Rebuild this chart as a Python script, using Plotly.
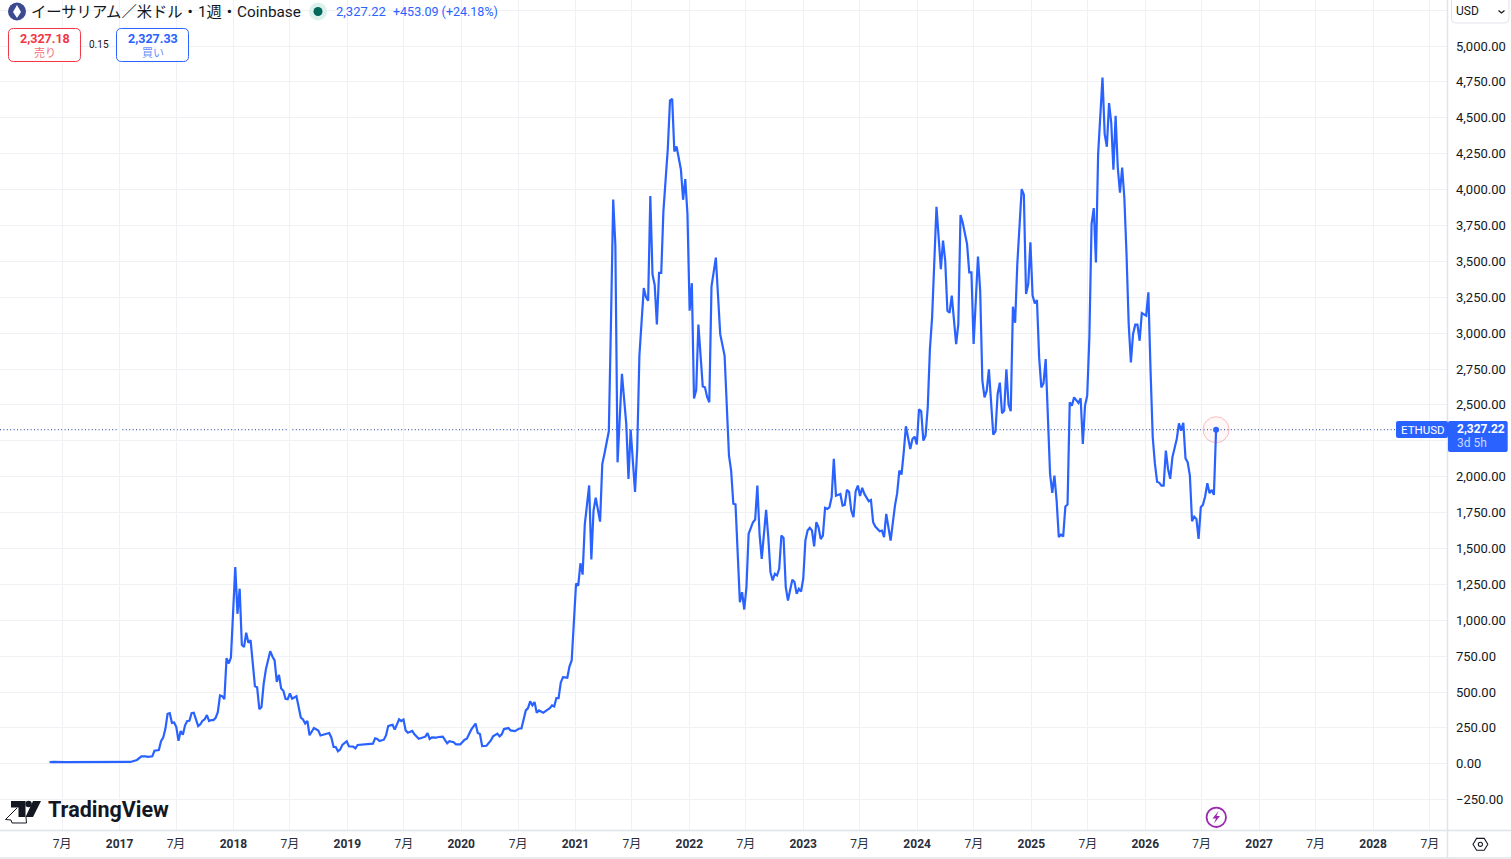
import pandas as pd
import plotly.graph_objects as go

# ---- series: week number since the first bar, close in USD ----
weeks_a = [0,2,7,16,23,29,37,40,42,44,45,47,48,50,51,52,53,54,55,56,57,58,59,60,61,62,63,64,65,66,68,69,70,71,72,73,74,75,76,77,78,79,80,81,82,83,84,85,86,87,88,89,90,91,92,94,95,96,97,98,99,101,102,103,104,105,106,107,108,109,110,111,113,115,116,117,118,119,121,123,124]
close_a = [12,14,12,13,12,10,13,27,52,52,48,52,91,96,157,182,244,348,353,285,288,256,160,228,203,268,298,300,353,356,263,275,300,310,340,298,305,305,320,360,476,471,450,736,699,740,1115,1370,1045,1220,829,813,913,843,862,540,533,380,396,558,658,784,748,720,570,620,525,509,453,450,490,453,471,322,309,281,299,199,250,232,197]
weeks_b = [126,128,129,130,131,132,133,134,136,137,139,140,141,144,145,148,149,150,151,153,154,155,156,157,158,160,161,162,163,164,166,167,169,172,173,174,175,177,178,180,182,183,185,186,188,190,191,193,195,196,197,198,200,202,203,205,206,207,208,210,211,213,215,216,218,219,220,221,222,223,224,226,228,229,230,231,232,233,234,235,237,238,239]
close_b = [208,215,182,117,117,87,99,131,157,122,120,108,131,134,138,140,177,173,159,168,198,263,268,272,238,310,298,308,233,217,229,205,175,189,214,173,184,182,187,189,143,157,150,136,136,168,175,238,280,215,208,124,126,163,191,210,191,205,242,249,233,228,246,246,372,388,435,407,430,356,372,356,377,388,407,400,458,458,565,604,600,679,720]
weeks_c = [241,242,243,244,245,247,248,249,250,252,253,254,256,257,258,259,260,262,264,265,266,268,269,270,272,273,274,275,276,277,278,279,280,281,283,284,285,286,287,289,290,291,292,293,294,295,296,297,299,300,301,302,303,305,306,307,309,310,311,312,313,314]
close_c = [1255,1241,1397,1318,1668,1939,1423,1764,1853,1687,2088,2160,2316,3084,3931,3612,2100,2717,2364,1985,2328,1894,2196,2844,3314,3252,3226,3955,3408,3336,3060,3420,3420,3852,4284,4620,4632,4265,4301,4140,3929,4073,3828,3156,3348,2544,2604,3060,2628,2623,2556,2518,3324,3526,3204,2993,2844,2460,2148,2040,1812,1807]
weeks_d = [315,316,317,318,319,320,322,323,324,325,326,328,329,330,331,332,333,334,335,336,337,338,340,341,342,343,344,345,346,347,348,349,350,351,352,353,354,355,356,357,358,359,360,362,363,364,365,366,367,368,369,370,371,372,373,375,376,377,378,380,381,382,383,384,385,387,388,389,390]
close_d = [1416,1126,1196,1075,1231,1602,1683,1702,1938,1602,1428,1769,1579,1335,1277,1324,1312,1358,1590,1574,1231,1138,1282,1266,1184,1219,1200,1289,1556,1625,1644,1625,1514,1683,1648,1565,1590,1783,1776,1787,1857,2124,1867,1879,1799,1804,1908,1894,1764,1718,1899,1938,1866,1922,1880,1829,1838,1683,1653,1620,1625,1579,1741,1660,1555,1799,1885,2043,2015]
weeks_e = [391,392,394,395,396,397,398,399,400,401,402,403,404,405,406,407,408,409,410,411,412,413,414,415,416,417,418,420,421,422,423,424,425,426,427,428,429,430,431,432,433,434,435,436,437,438,439,440,441,442,443,445,446,447,448,449,450,451,452,453,454,455,456,457,458,459,460,461,462,463,464,465,466,467]
close_e = [2170,2351,2193,2263,2279,2224,2470,2456,2251,2286,2483,2889,3110,3446,3880,3666,3446,3644,3504,3156,3142,3261,3086,2924,3063,3822,3771,3620,3423,3423,2924,3272,3534,3296,2669,2553,2599,2748,2553,2293,2316,2576,2655,2442,2460,2748,2502,2456,3184,3072,3481,4003,3964,3272,3342,3632,3261,3207,3230,2831,2622,2650,2820,2437,2019,1887,2008,1834,1579,1597,1583,1792,1806,2518]
weeks_f = [468,469,470,471,472,473,474,475,476,477,478,479,480,481,482,483,484,485,486,487,488,489,490,491,492,493,494,495,496,497,498,499,500,502,503,504,505,506,507,508,509,510,511,512,513,514,516,517,518,519,520,521,522,523,524,525,526,527,528,529,530,531,532,533,534]
close_f = [2495,2553,2535,2514,2546,2228,2495,2565,2971,3759,3871,3493,4247,4525,4780,4386,4298,4602,4467,4138,4514,4154,3978,4154,3945,3550,3063,2796,2994,3059,3059,2947,3140,3122,3284,2739,2275,2089,1964,1957,1938,1938,2182,2054,1985,2135,2263,2372,2321,2375,2128,2100,2008,1690,1722,1706,1567,1787,1804,1864,1955,1885,1908,1873,2327.22]

first_week = "2016-05-22"
last_price = 2327.22

# ---- axis ticks and texts ----
month_dates = ["2016-07-01","2017-07-01","2018-07-01","2019-07-01","2020-07-01","2021-07-01","2022-07-01","2023-07-01","2024-07-01","2025-07-01","2026-07-01","2027-07-01","2028-07-01"]
year_dates = ["2017-01-01","2018-01-01","2019-01-01","2020-01-01","2021-01-01","2022-01-01","2023-01-01","2024-01-01","2025-01-01","2026-01-01","2027-01-01","2028-01-01"]
year_labels = ["2017","2018","2019","2020","2021","2022","2023","2024","2025","2026","2027","2028"]
month_label = "7月"
price_ticks = [-250,0,250,500,750,1000,1250,1500,1750,2000,2250,2500,2750,3000,3250,3500,3750,4000,4250,4500,4750,5000,5250]
price_labels = ["−250.00","0.00","250.00","500.00","750.00","1,000.00","1,250.00","1,500.00","1,750.00","2,000.00","","2,500.00","2,750.00","3,000.00","3,250.00","3,500.00","3,750.00","4,000.00","4,250.00","4,500.00","4,750.00","5,000.00",""]
title_text = "イーサリアム／米ドル・1週・Coinbase"
quote_text = "2,327.22"
change_text = "+453.09 (+24.18%)"
bid_text, bid_label = "2,327.18", "売り"
ask_text, ask_label = "2,327.33", "買い"
spread_text = "0.15"

weeks = weeks_a + weeks_b + weeks_c + weeks_d + weeks_e + weeks_f
closes = close_a + close_b + close_c + close_d + close_e + close_f
base = pd.Timestamp(first_week)
dates = [(base + pd.Timedelta(days=7 * w)).strftime("%Y-%m-%d") for w in weeks]

INK = "#131722"
BLUE = "#2962ff"
RED = "#f23645"
GRID = "#f0f1f5"
EDGE = "#e0e3eb"
FONT = "Roboto, 'Noto Sans CJK JP', sans-serif"
W, H, PW, PH = 1511, 859, 1447, 831


def X(p):
    return p / PW


def Y(p):
    return 1 - p / PH


def poly(points, close=True):
    s = "M " + " L ".join(f"{X(a):.6f},{Y(b):.6f}" for a, b in points)
    return s + (" Z" if close else "")


def rrect(x0, y0, x1, y1, r):
    p = lambda a, b: f"{X(a):.6f},{Y(b):.6f}"
    return (f"M {p(x0+r,y0)} L {p(x1-r,y0)} Q {p(x1,y0)} {p(x1,y0+r)} L {p(x1,y1-r)} Q {p(x1,y1)} {p(x1-r,y1)} "
            f"L {p(x0+r,y1)} Q {p(x0,y1)} {p(x0,y1-r)} L {p(x0,y0+r)} Q {p(x0,y0)} {p(x0+r,y0)} Z")


def path(d, fill="rgba(0,0,0,0)", line=None, lw=1):
    return dict(type="path", xref="paper", yref="paper", path=d, fillcolor=fill,
                line=dict(color=line or "rgba(0,0,0,0)", width=lw if line else 0), layer="above")


def circle(cx, cy, r, fill="rgba(0,0,0,0)", line=None, lw=1):
    return dict(type="circle", xref="paper", yref="paper", x0=X(cx - r), x1=X(cx + r), y0=Y(cy + r), y1=Y(cy - r),
                fillcolor=fill, line=dict(color=line or "rgba(0,0,0,0)", width=lw if line else 0), layer="above")


def label(x, y, text, size=12, color=INK, anchor="left"):
    return dict(xref="paper", yref="paper", x=X(x), y=Y(y), text=text, showarrow=False, xanchor=anchor, yanchor="middle",
                xshift=0, yshift=0, borderpad=0, font=dict(family=FONT, size=size, color=color))


fig = go.Figure()
fig.add_trace(go.Scatter(x=dates, y=closes, mode="lines", line=dict(color=BLUE, width=2.2), hoverinfo="skip"))
fig.add_trace(go.Scatter(x=dates[-1:], y=closes[-1:], mode="markers", hoverinfo="skip",
                         marker=dict(size=26, color="rgba(242,54,69,0.04)", line=dict(color="rgba(242,54,69,0.32)", width=1))))
fig.add_trace(go.Scatter(x=dates[-1:], y=closes[-1:], mode="markers", hoverinfo="skip", marker=dict(size=6, color=BLUE)))

shapes = [
    dict(type="line", xref="paper", yref="y", x0=0, x1=X(1396), y0=last_price, y1=last_price,
         line=dict(color="#1c3a9a", width=1, dash="1px,2.4px"), layer="below"),
    # frame lines
    path(poly([(1447.5, 0), (1447.5, 858)], False), line=EDGE, lw=1.5),
    path(poly([(0, 830.5), (1511, 830.5)], False), line=EDGE, lw=1.5),
    path(poly([(0, 858), (1511, 858)], False), line=EDGE, lw=1.5),
    # symbol icon
    circle(17, 11.5, 9, fill="#3c4a8f"),
    path(poly([(17, 5), (21, 12), (17, 18), (13, 12)]), fill="#ffffff"),
    # market status dot
    circle(318, 11.5, 9, fill="#dcf0ec"),
    circle(318, 11.5, 4.5, fill="#00695c"),
    # bid / ask boxes
    path(rrect(8.5, 28.5, 80.5, 61.5, 5), fill="#ffffff", line=RED),
    path(rrect(116.5, 28.5, 188.5, 61.5, 5), fill="#ffffff", line=BLUE),
    # currency box
    path(rrect(1451.5, -6, 1509, 23, 4), fill="#ffffff", line=EDGE),
    path(poly([(1498.5, 10.5), (1501.5, 13), (1504.5, 10.5)], False), line=INK, lw=1.2),
    # last price tags
    path(rrect(1396, 421, 1448, 438, 2), fill=BLUE),
    path(rrect(1448, 421, 1507.7, 452, 2), fill=BLUE),
    # TradingView mark
    path(poly([(11, 801), (25.5, 801), (25.5, 817), (18.5, 817), (18.5, 807.5), (11, 807.5)]), fill=INK),
    circle(28.6, 804, 3.2, fill=INK),
    path(poly([(33, 801), (41, 801), (33, 817), (25.5, 817)]), fill=INK),
    path(poly([(17, 808), (5.5, 819.5), (11, 820), (12, 823), (26.5, 823), (26, 817)], False), line=INK, lw=1),
    # lightning badge
    circle(1216.3, 817.3, 9.7, fill="#ffffff", line="#9c27b0", lw=1.8),
    path(poly([(1218.5, 811), (1212.5, 818.5), (1216, 818.5), (1214, 823.5), (1220, 816), (1216.5, 816)]), fill="#9c27b0"),
    # settings icon
    path(poly([(1473, 844.3), (1476.6, 838.4), (1484.2, 838.4), (1487.8, 844.3), (1484.2, 850.2), (1476.6, 850.2)]), line=INK, lw=1.1),
    circle(1480.4, 844.3, 2.1, line=INK, lw=1.1),
]

annotations = [
    label(29.5, 11.5, title_text, size=15.3),
    label(334.5, 12, quote_text, size=13, color=BLUE),
    label(391.5, 12, change_text, size=12.5, color=BLUE),
    label(44.5, 38, f"<b>{bid_text}</b>", size=12.5, color=RED, anchor="center"),
    label(44.5, 53.5, bid_label, size=11, color="#f7707c", anchor="center"),
    label(98.5, 45, spread_text, size=10, anchor="center"),
    label(152.5, 38, f"<b>{ask_text}</b>", size=12.5, color=BLUE, anchor="center"),
    label(152.5, 53.5, ask_label, size=11, color="#6a90ff", anchor="center"),
    label(1455, 11, "USD", size=12),
    label(1400, 429.5, "ETHUSD", size=11.5, color="#ffffff"),
    label(1455.5, 429, f"<b>{quote_text}</b>", size=12, color="#ffffff"),
    label(1455.5, 443, "3d 5h", size=12, color="#c9d6ff"),
    label(47, 809, "<b>TradingView</b>", size=21.5),
]

ticks_x = month_dates + year_dates
texts_x = [month_label] * len(month_dates) + [f"<b>{y}</b>" for y in year_labels]

fig.update_layout(
    width=W, height=H, autosize=False, showlegend=False,
    margin=dict(l=0, r=W - PW, t=0, b=H - PH, pad=0),
    paper_bgcolor="#ffffff", plot_bgcolor="#ffffff",
    font=dict(family=FONT, size=12, color=INK),
    shapes=shapes, annotations=annotations,
    xaxis=dict(type="date", range=["2015-12-15", "2028-08-25"], tickmode="array", tickvals=ticks_x, ticktext=texts_x,
               showgrid=True, gridcolor=GRID, gridwidth=1, zeroline=False, showline=False, ticks="", tickangle=0,
               tickfont=dict(family=FONT, size=12, color="#2a2e39"), ticklabelstandoff=4),
    yaxis=dict(side="right", range=[-468, 5320.6], tickmode="array", tickvals=price_ticks, ticktext=price_labels,
               showgrid=True, gridcolor=GRID, gridwidth=1, zeroline=False, showline=False, ticks="",
               tickfont=dict(family=FONT, size=13, color=INK), ticklabelstandoff=8),
)

fig.write_html("out.html", config=dict(displayModeBar=False),
               post_script="document.body.style.margin='0';document.body.style.overflow='hidden';")
